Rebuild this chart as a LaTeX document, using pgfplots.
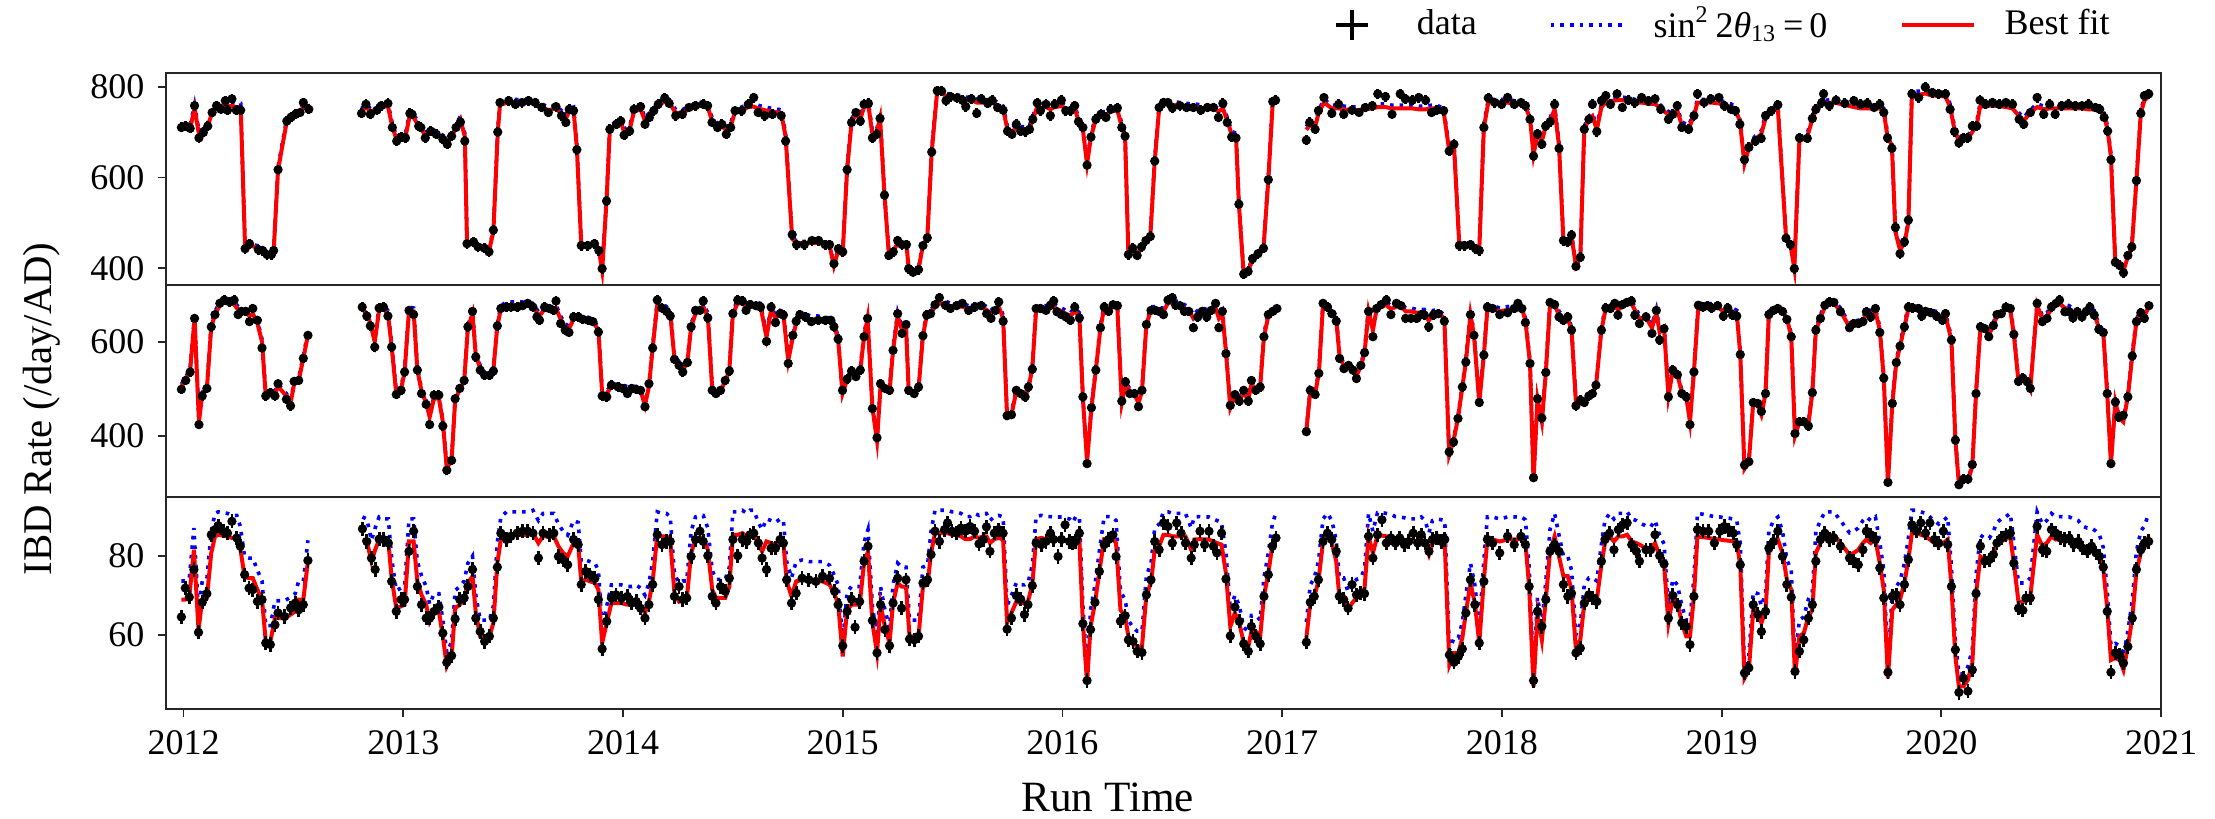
\documentclass[border=0pt]{standalone}
\usepackage{fontspec}
\setmainfont{Liberation Serif}
\usepackage{pgfplots}
\usepackage{pgfplotstable}
\pgfplotsset{compat=1.18}

% Weekly IBD rates per AD: time (yr), observed, best-fit prediction,
% prediction without theta13 oscillation. A nan row marks a data gap.
\pgfplotstableread{
t obs fit null
2011.99 710 708 715
2012.01 713 710 717
2012.03 708 708 715
2012.05 758 752 760
2012.07 687 695 702
2012.09 699 700 707
2012.11 713 713 720
2012.13 743 743 750
2012.15 758 755 763
2012.17 750 757 765
2012.19 769 760 768
2012.20 748 758 766
2012.22 773 757 765
2012.24 748 755 763
2012.26 748 755 763
2012.28 443 445 449
2012.30 454 450 455
2012.34 441 445 449
2012.36 439 440 444
2012.38 430 432 436
2012.40 430 432 436
2012.41 439 437 441
2012.43 617 617 623
2012.47 724 724 731
2012.49 733 733 740
2012.51 739 739 746
2012.53 743 743 750
2012.545 765 755 763
2012.57 750 752 760
2012.70 nan nan nan
2012.81 741 745 752
2012.83 761 755 762
2012.85 739 745 752
2012.88 748 750 757
2012.90 758 755 762
2012.93 763 757 764
2012.95 710 712 719
2012.97 680 682 689
2012.99 689 690 697
2013.01 687 690 697
2013.03 741 738 745
2013.04 739 738 745
2013.07 713 713 720
2013.08 710 708 715
2013.10 687 692 699
2013.125 702 700 707
2013.15 695 695 702
2013.18 684 686 693
2013.20 673 680 687
2013.22 691 690 697
2013.24 710 710 717
2013.26 722 728 735
2013.28 680 690 697
2013.29 454 455 459
2013.32 458 452 456
2013.34 447 447 451
2013.37 444 444 448
2013.39 436 438 442
2013.41 484 480 485
2013.43 700 700 707
2013.44 765 760 767
2013.48 769 765 772
2013.51 761 765 772
2013.54 765 763 770
2013.57 769 765 772
2013.60 765 762 769
2013.63 754 755 762
2013.66 743 748 755
2013.695 756 752 759
2013.72 736 740 747
2013.74 721 730 737
2013.755 750 745 752
2013.775 747 748 755
2013.79 661 665 672
2013.81 450 450 454
2013.84 450 450 454
2013.87 454 452 456
2013.89 439 440 444
2013.905 399 395 399
2013.925 548 548 553
2013.94 706 706 713
2013.97 717 717 724
2013.99 724 722 729
2014.005 693 700 707
2014.03 702 705 712
2014.05 750 745 752
2014.08 756 750 757
2014.10 717 725 732
2014.12 732 735 742
2014.14 747 745 752
2014.16 761 758 765
2014.19 775 768 775
2014.21 763 765 772
2014.24 736 742 749
2014.27 739 742 749
2014.30 754 750 757
2014.33 758 755 762
2014.365 761 760 767
2014.385 758 756 763
2014.405 721 725 732
2014.43 710 712 719
2014.45 717 712 719
2014.47 695 705 712
2014.49 710 712 719
2014.51 747 745 752
2014.54 747 748 755
2014.57 761 755 762
2014.595 776 756 763
2014.615 743 752 759
2014.645 736 748 755
2014.68 739 745 752
2014.72 736 742 749
2014.74 680 690 697
2014.77 474 465 469
2014.79 452 455 459
2014.825 452 455 459
2014.86 461 455 459
2014.89 461 455 459
2014.92 452 453 457
2014.94 452 450 454
2014.96 410 405 409
2014.98 443 440 444
2015.00 436 435 439
2015.02 617 617 623
2015.04 721 721 728
2015.06 743 740 747
2015.08 724 728 735
2015.097 761 755 762
2015.117 763 758 765
2015.135 687 695 702
2015.155 695 700 707
2015.17 730 730 737
2015.19 561 561 566
2015.21 428 430 434
2015.23 436 438 442
2015.25 461 455 459
2015.27 452 452 456
2015.29 452 452 456
2015.30 399 400 404
2015.32 391 395 399
2015.345 397 398 402
2015.365 450 450 454
2015.385 467 467 471
2015.405 656 656 663
2015.43 791 790 797
2015.45 790 788 795
2015.47 769 778 785
2015.49 778 776 783
2015.52 775 775 782
2015.545 770 772 779
2015.56 756 770 777
2015.585 773 770 777
2015.61 741 765 772
2015.63 773 765 772
2015.66 763 764 771
2015.68 770 765 772
2015.705 754 758 765
2015.73 748 750 757
2015.75 702 705 712
2015.77 695 700 707
2015.79 717 710 717
2015.81 702 705 712
2015.83 701 705 712
2015.85 706 708 715
2015.865 728 728 735
2015.885 764 755 762
2015.90 747 752 759
2015.925 761 755 762
2015.945 736 750 757
2015.965 761 755 762
2015.995 770 757 764
2016.015 747 752 759
2016.036 747 750 757
2016.056 758 752 759
2016.073 723 725 732
2016.093 710 705 712
2016.112 627 630 636
2016.13 689 690 697
2016.152 728 728 735
2016.175 739 738 745
2016.198 732 738 745
2016.22 750 745 752
2016.25 753 748 755
2016.27 710 712 719
2016.285 691 690 697
2016.30 430 432 436
2016.32 444 440 444
2016.34 428 432 436
2016.36 447 445 449
2016.38 461 458 462
2016.40 470 470 475
2016.42 636 636 642
2016.44 754 752 759
2016.46 765 762 769
2016.48 765 763 770
2016.50 753 760 767
2016.535 758 758 765
2016.565 754 756 763
2016.595 754 755 762
2016.63 748 753 760
2016.66 754 752 759
2016.687 754 752 759
2016.71 732 745 752
2016.73 763 752 759
2016.75 721 725 732
2016.77 689 695 702
2016.79 687 690 697
2016.803 541 541 546
2016.825 387 385 389
2016.845 393 392 396
2016.865 421 420 424
2016.89 432 432 436
2016.915 444 444 448
2016.937 595 595 601
2016.957 767 765 772
2016.97 770 768 775
2017.04 nan nan nan
2017.11 682 705 712
2017.125 721 715 722
2017.15 706 712 719
2017.165 747 740 747
2017.19 776 765 772
2017.226 741 752 759
2017.257 761 752 759
2017.28 739 750 757
2017.318 748 748 755
2017.35 743 748 755
2017.378 754 750 757
2017.41 758 752 759
2017.435 784 755 762
2017.47 778 755 762
2017.50 739 752 759
2017.537 784 752 759
2017.56 773 752 759
2017.592 770 752 759
2017.622 776 750 757
2017.653 770 750 757
2017.68 743 752 759
2017.704 748 752 759
2017.735 747 745 752
2017.76 658 660 667
2017.782 673 670 677
2017.806 450 452 456
2017.83 450 450 454
2017.857 452 450 454
2017.88 443 445 449
2017.897 439 440 444
2017.918 710 710 717
2017.938 775 765 772
2017.968 765 765 772
2017.999 761 765 772
2018.026 776 765 772
2018.056 761 762 769
2018.087 765 760 767
2018.107 758 756 763
2018.128 728 730 737
2018.144 647 650 657
2018.162 696 695 702
2018.182 673 680 687
2018.199 713 712 719
2018.22 723 725 732
2018.24 761 750 757
2018.26 664 670 677
2018.28 461 460 464
2018.30 458 460 464
2018.317 473 470 475
2018.337 404 405 409
2018.357 424 422 426
2018.375 706 706 713
2018.396 728 728 735
2018.412 761 735 742
2018.432 701 705 712
2018.453 769 755 762
2018.473 780 765 772
2018.494 761 768 775
2018.524 784 770 777
2018.548 754 770 777
2018.575 770 768 775
2018.605 765 765 772
2018.636 776 765 772
2018.666 769 762 769
2018.697 773 762 769
2018.723 750 752 759
2018.758 728 738 745
2018.778 739 738 745
2018.798 758 748 755
2018.819 710 715 722
2018.85 706 708 715
2018.874 736 735 742
2018.89 784 765 772
2018.92 765 765 772
2018.951 773 765 772
2018.988 776 763 770
2019.012 758 760 767
2019.043 750 755 762
2019.063 747 748 755
2019.083 717 725 732
2019.104 639 630 636
2019.124 666 665 672
2019.154 680 685 692
2019.18 686 695 702
2019.20 736 730 737
2019.226 747 745 752
2019.256 760 752 759
2019.293 466 470 475
2019.313 452 452 456
2019.331 399 400 404
2019.354 687 680 687
2019.39 686 690 697
2019.413 730 728 735
2019.429 750 748 755
2019.456 765 760 767
2019.464 784 762 769
2019.49 758 764 771
2019.521 770 764 771
2019.561 763 760 767
2019.602 769 755 762
2019.633 761 752 759
2019.663 763 752 759
2019.694 754 752 759
2019.72 761 752 759
2019.738 743 745 752
2019.755 687 690 697
2019.775 664 670 677
2019.791 490 480 485
2019.812 432 440 444
2019.832 458 455 459
2019.85 506 500 505
2019.866 784 782 790
2019.897 776 782 790
2019.927 799 785 793
2019.958 787 780 788
2019.988 784 780 788
2020.019 784 778 786
2020.04 750 755 762
2020.06 701 705 712
2020.08 676 680 687
2020.10 687 685 692
2020.12 687 685 692
2020.141 713 700 707
2020.161 713 715 722
2020.176 770 755 762
2020.202 761 758 765
2020.233 765 758 765
2020.263 761 757 764
2020.294 765 755 762
2020.324 761 752 759
2020.354 728 735 742
2020.375 717 725 732
2020.405 743 742 749
2020.436 776 755 762
2020.466 739 750 757
2020.493 761 752 759
2020.518 739 752 759
2020.548 758 752 759
2020.578 761 752 759
2020.609 758 752 759
2020.64 758 752 759
2020.67 761 750 757
2020.70 754 750 757
2020.721 750 748 755
2020.741 732 735 742
2020.757 702 705 712
2020.772 639 645 651
2020.792 413 410 414
2020.812 406 405 409
2020.829 390 395 399
2020.849 428 425 429
2020.867 447 447 451
2020.888 593 593 599
2020.908 741 741 748
2020.924 780 770 777
2020.944 784 778 786
}\ehone

\pgfplotstableread{
t obs fit null
2011.99 499 505 510
2012.01 518 520 525
2012.03 536 540 545
2012.05 650 650 656
2012.07 424 430 434
2012.085 485 488 493
2012.106 501 500 505
2012.126 632 632 638
2012.143 658 658 665
2012.165 682 678 685
2012.185 689 685 692
2012.21 685 684 691
2012.23 689 680 687
2012.248 658 668 675
2012.263 665 668 675
2012.283 665 662 669
2012.30 643 655 662
2012.315 671 660 667
2012.336 646 640 646
2012.357 587 600 606
2012.374 485 485 490
2012.395 492 492 497
2012.416 485 490 495
2012.43 511 505 510
2012.468 478 485 490
2012.487 464 470 475
2012.503 516 510 515
2012.524 518 518 523
2012.545 565 565 571
2012.566 614 614 620
2012.70 nan nan nan
2012.813 674 670 677
2012.834 655 660 667
2012.85 634 640 646
2012.87 589 600 606
2012.89 672 668 675
2012.91 674 670 677
2012.93 655 660 667
2012.947 589 590 596
2012.968 488 490 495
2012.99 497 500 505
2013.006 536 536 541
2013.026 667 667 674
2013.047 658 665 672
2013.064 540 540 545
2013.083 490 495 500
2013.104 467 470 475
2013.12 424 440 444
2013.14 487 480 485
2013.162 487 480 485
2013.18 421 430 434
2013.198 327 330 333
2013.22 348 350 353
2013.236 479 475 480
2013.257 501 500 505
2013.277 518 515 520
2013.294 632 630 636
2013.315 665 660 667
2013.33 568 570 576
2013.35 540 545 550
2013.37 529 530 535
2013.392 529 530 535
2013.41 538 540 545
2013.428 634 634 640
2013.444 671 670 677
2013.47 674 678 685
2013.49 674 678 685
2013.518 674 678 685
2013.543 677 678 685
2013.566 682 678 685
2013.59 674 675 682
2013.608 653 662 669
2013.62 646 655 662
2013.643 674 670 677
2013.664 671 668 675
2013.685 667 668 675
2013.695 687 672 679
2013.716 639 648 655
2013.737 625 632 638
2013.754 620 628 634
2013.775 653 648 655
2013.796 653 650 657
2013.817 648 648 655
2013.842 646 646 652
2013.863 643 643 649
2013.888 621 625 631
2013.905 485 490 495
2013.926 483 490 495
2013.947 508 505 510
2013.978 504 505 510
2013.999 501 503 508
2014.02 490 500 505
2014.04 501 500 505
2014.06 499 500 505
2014.08 497 496 501
2014.10 462 465 470
2014.118 511 505 510
2014.135 587 587 593
2014.156 689 680 687
2014.177 672 675 682
2014.198 665 668 675
2014.215 655 660 667
2014.234 563 565 571
2014.255 550 552 558
2014.272 536 540 545
2014.293 556 556 562
2014.31 632 632 638
2014.33 667 660 667
2014.35 667 668 675
2014.365 687 675 682
2014.386 651 655 662
2014.406 497 500 505
2014.423 490 492 497
2014.444 497 497 502
2014.465 518 515 520
2014.484 538 540 545
2014.50 660 660 667
2014.522 689 682 689
2014.543 687 682 689
2014.56 667 675 682
2014.578 679 678 685
2014.605 677 678 685
2014.626 674 675 682
2014.653 601 610 616
2014.674 674 668 675
2014.694 641 650 657
2014.715 660 660 667
2014.73 657 658 665
2014.752 554 560 566
2014.773 614 610 616
2014.788 644 640 646
2014.805 658 655 662
2014.83 653 652 659
2014.857 643 648 655
2014.888 646 648 655
2014.92 646 646 652
2014.946 646 645 651
2014.96 632 635 641
2014.979 606 606 612
2014.999 497 490 495
2015.02 521 520 525
2015.04 538 535 540
2015.06 526 530 535
2015.08 540 540 545
2015.097 611 611 617
2015.113 650 650 657
2015.135 458 460 465
2015.156 396 390 394
2015.172 511 505 510
2015.192 501 500 505
2015.213 497 495 500
2015.229 582 582 588
2015.25 660 655 662
2015.27 618 625 631
2015.288 637 635 641
2015.30 497 495 500
2015.325 490 490 495
2015.345 504 500 505
2015.365 613 613 619
2015.382 657 655 662
2015.40 660 660 667
2015.42 679 675 682
2015.44 694 682 689
2015.467 678 680 687
2015.49 671 675 682
2015.518 677 675 682
2015.544 682 675 682
2015.573 667 670 677
2015.60 674 672 679
2015.63 677 675 682
2015.655 660 668 675
2015.675 650 660 667
2015.695 667 670 677
2015.71 685 675 682
2015.73 644 650 657
2015.748 443 440 444
2015.768 445 445 449
2015.79 497 495 500
2015.81 490 490 495
2015.83 483 485 490
2015.845 504 500 505
2015.863 542 545 550
2015.88 671 668 675
2015.90 671 670 677
2015.925 667 670 677
2015.945 678 672 679
2015.96 687 674 681
2015.975 664 670 677
2015.995 658 665 672
2016.016 653 660 667
2016.036 646 655 662
2016.056 674 665 672
2016.077 651 655 662
2016.093 483 480 485
2016.112 341 345 348
2016.132 460 460 465
2016.152 540 540 545
2016.173 630 630 636
2016.19 674 672 679
2016.21 665 668 675
2016.23 679 675 682
2016.25 677 672 679
2016.27 474 470 475
2016.287 515 510 515
2016.307 490 495 500
2016.327 490 490 495
2016.346 462 470 475
2016.362 497 495 500
2016.382 637 637 643
2016.403 667 668 675
2016.423 667 668 675
2016.443 664 665 672
2016.46 658 665 672
2016.48 689 682 689
2016.50 694 685 692
2016.515 678 680 687
2016.535 677 678 685
2016.555 665 672 679
2016.575 665 668 675
2016.596 630 650 657
2016.616 653 660 667
2016.636 665 665 672
2016.657 653 662 669
2016.677 667 668 675
2016.697 682 672 679
2016.712 630 650 657
2016.728 665 660 667
2016.744 575 580 586
2016.764 465 460 465
2016.785 488 485 490
2016.805 474 478 483
2016.825 497 490 495
2016.846 474 478 483
2016.86 518 510 515
2016.88 497 500 505
2016.90 504 505 510
2016.917 611 611 617
2016.937 658 655 662
2016.958 665 665 672
2016.976 671 670 677
2017.04 nan nan nan
2017.11 409 410 414
2017.128 497 497 502
2017.15 488 490 495
2017.167 533 533 538
2017.186 682 680 687
2017.206 674 675 682
2017.226 660 665 672
2017.246 644 648 655
2017.261 565 570 576
2017.281 543 548 553
2017.302 550 550 555
2017.322 540 540 545
2017.338 522 528 533
2017.358 550 548 553
2017.375 577 577 583
2017.393 665 665 672
2017.413 611 625 631
2017.43 671 670 677
2017.45 679 676 683
2017.474 689 678 685
2017.495 658 670 677
2017.52 682 675 682
2017.541 677 675 682
2017.562 650 665 672
2017.586 650 665 672
2017.613 650 662 669
2017.633 658 662 669
2017.647 657 662 669
2017.667 632 645 651
2017.688 657 660 667
2017.71 660 662 669
2017.738 644 650 657
2017.76 366 360 364
2017.78 387 390 394
2017.80 437 437 441
2017.82 504 504 509
2017.836 557 557 563
2017.857 658 658 665
2017.873 614 614 620
2017.897 471 471 476
2017.918 572 572 578
2017.934 674 670 677
2017.958 671 670 677
2017.99 658 665 672
2018.026 662 668 675
2018.056 671 670 677
2018.073 682 675 682
2018.091 671 672 679
2018.107 641 645 651
2018.128 554 554 560
2018.144 311 305 308
2018.162 479 479 484
2018.182 438 430 434
2018.20 535 535 540
2018.219 684 680 687
2018.24 679 678 685
2018.26 653 658 665
2018.28 646 650 657
2018.30 653 650 657
2018.317 625 625 631
2018.337 464 470 475
2018.357 476 475 480
2018.375 471 472 477
2018.396 485 485 490
2018.412 490 490 495
2018.428 508 505 510
2018.453 625 625 631
2018.473 672 672 679
2018.494 671 672 679
2018.514 682 678 685
2018.528 657 668 675
2018.548 679 675 682
2018.569 684 680 687
2018.589 687 682 689
2018.605 657 668 675
2018.626 639 650 657
2018.656 653 652 659
2018.683 618 630 636
2018.703 667 662 669
2018.718 604 620 626
2018.738 628 630 636
2018.758 483 485 490
2018.778 540 540 545
2018.799 530 530 535
2018.819 490 492 497
2018.839 483 483 488
2018.856 424 430 434
2018.874 536 536 541
2018.894 678 675 682
2018.915 674 675 682
2018.935 677 675 682
2018.955 672 674 681
2018.982 677 674 681
2019.008 655 665 672
2019.028 672 670 677
2019.049 657 665 672
2019.069 655 660 667
2019.085 573 573 579
2019.104 338 330 333
2019.124 345 345 348
2019.144 471 471 476
2019.165 469 465 470
2019.181 452 445 449
2019.20 490 490 495
2019.215 658 658 665
2019.236 667 665 672
2019.256 671 668 675
2019.277 665 665 672
2019.297 648 650 657
2019.317 611 611 617
2019.334 405 400 404
2019.354 430 430 434
2019.374 430 432 436
2019.395 421 425 429
2019.413 492 492 497
2019.429 625 625 631
2019.45 650 650 657
2019.47 678 675 682
2019.49 685 682 689
2019.511 684 682 689
2019.541 664 665 672
2019.582 630 632 638
2019.602 639 638 644
2019.622 639 640 646
2019.643 643 645 651
2019.659 664 660 667
2019.679 653 660 667
2019.70 671 665 672
2019.72 620 625 631
2019.738 523 523 528
2019.757 301 300 303
2019.777 469 469 474
2019.795 556 556 562
2019.812 591 591 597
2019.832 632 632 638
2019.85 674 670 677
2019.87 672 670 677
2019.897 671 668 675
2019.911 655 662 669
2019.928 665 662 669
2019.952 662 660 667
2019.978 655 658 665
2020.005 646 652 659
2020.019 660 655 662
2020.046 604 604 610
2020.064 391 391 395
2020.08 296 296 299
2020.10 308 305 308
2020.121 308 305 308
2020.141 339 335 338
2020.158 490 490 495
2020.178 632 632 638
2020.198 628 628 634
2020.216 611 615 621
2020.237 635 635 641
2020.253 658 655 662
2020.273 660 660 667
2020.294 674 668 675
2020.314 671 668 675
2020.33 616 616 622
2020.351 516 516 521
2020.371 523 520 525
2020.391 515 515 520
2020.405 501 500 505
2020.436 682 678 685
2020.46 643 648 655
2020.481 650 655 662
2020.501 674 670 677
2020.522 682 678 685
2020.538 689 682 689
2020.562 664 672 679
2020.582 664 670 677
2020.599 651 662 669
2020.619 664 662 669
2020.64 653 655 662
2020.66 665 662 669
2020.676 674 665 672
2020.696 657 660 667
2020.717 627 630 636
2020.737 620 620 626
2020.755 490 490 495
2020.772 341 341 344
2020.792 472 472 477
2020.808 440 440 444
2020.828 444 430 434
2020.849 483 483 488
2020.869 570 570 576
2020.888 643 643 649
2020.908 662 660 667
2020.924 650 655 662
2020.945 677 675 682
}\ehtwo

\pgfplotstableread{
t obs fit null
2011.99 64.5 68.9 73.6
2012.008 71.8 68.9 73.6
2012.026 69.5 69.5 74.2
2012.047 76.5 81.5 87.0
2012.068 60.6 61.3 65.5
2012.085 68.2 68.9 73.6
2012.106 70.4 69.3 74.0
2012.126 85.3 80.7 86.2
2012.143 86.6 84.9 90.7
2012.158 87.6 85.3 91.1
2012.18 86.2 85.1 90.9
2012.20 85.7 84.9 90.7
2012.22 88.7 84.5 90.2
2012.242 84.5 84.5 90.2
2012.258 82.4 81.9 87.5
2012.278 75.2 74.6 79.7
2012.298 71.8 74.3 79.4
2012.315 71.4 74.3 79.4
2012.336 68.4 71.4 76.3
2012.357 68.9 68.9 73.6
2012.374 57.9 58.3 62.3
2012.395 57.5 58.3 62.3
2012.416 62.5 64.2 68.6
2012.43 65.5 64.2 68.6
2012.46 64.6 64.2 68.6
2012.487 66.8 65.1 69.5
2012.508 68.0 65.9 70.4
2012.524 66.3 68.9 73.6
2012.545 67.6 68.9 73.6
2012.566 78.8 78.6 83.9
2012.70 nan nan nan
2012.814 86.8 84.1 89.8
2012.834 83.6 83.6 89.3
2012.855 79.4 78.6 83.9
2012.872 76.5 81.5 87.0
2012.89 84.2 84.1 89.8
2012.91 84.1 83.6 89.3
2012.932 83.2 83.6 89.3
2012.947 73.5 74.3 79.4
2012.968 65.9 66.7 71.2
2012.99 68.9 67.2 71.8
2013.006 68.9 67.6 72.2
2013.026 81.1 83.6 89.3
2013.047 86.2 83.6 89.3
2013.064 72.2 73.5 78.5
2013.083 67.6 70.1 74.9
2013.104 64.2 67.6 72.2
2013.12 64.2 63.4 67.7
2013.14 65.9 65.9 70.4
2013.162 67.0 65.9 70.4
2013.18 60.4 59.6 63.7
2013.198 53.0 52.0 55.5
2013.22 54.7 54.5 58.2
2013.236 64.0 66.7 71.2
2013.257 68.9 67.6 72.2
2013.277 69.3 68.9 73.6
2013.294 72.2 73.1 78.1
2013.315 76.5 74.8 79.9
2013.33 64.2 65.5 70.0
2013.35 60.8 59.6 63.7
2013.37 58.3 59.6 63.7
2013.392 59.6 59.6 63.7
2013.41 64.2 63.0 67.3
2013.428 77.1 78.1 83.4
2013.444 85.7 84.1 89.8
2013.47 84.1 85.3 91.1
2013.49 84.9 85.3 91.1
2013.518 85.7 85.3 91.1
2013.543 86.2 85.3 91.1
2013.566 86.2 85.3 91.1
2013.59 85.7 85.7 91.5
2013.615 79.4 83.2 88.9
2013.636 85.7 84.9 90.7
2013.664 85.3 84.9 90.7
2013.685 85.7 84.9 90.7
2013.706 79.8 82.4 88.0
2013.727 79.0 80.7 86.2
2013.748 77.7 79.8 85.2
2013.775 84.1 83.2 88.9
2013.796 82.8 82.8 88.4
2013.81 72.7 73.5 78.5
2013.83 76.0 73.9 78.9
2013.85 75.2 73.5 78.5
2013.872 74.3 73.1 78.1
2013.888 68.9 71.4 76.3
2013.905 56.4 57.9 61.8
2013.926 63.4 63.0 67.3
2013.947 69.3 68.0 72.6
2013.968 70.1 68.0 72.6
2013.993 69.3 68.0 72.6
2014.02 69.7 67.6 72.2
2014.04 68.0 67.6 72.2
2014.06 68.4 68.0 72.6
2014.08 66.7 67.2 71.8
2014.10 64.2 65.5 70.0
2014.118 67.6 68.4 73.1
2014.135 72.7 73.5 78.5
2014.156 85.3 85.3 91.1
2014.177 82.8 84.9 90.7
2014.198 83.6 84.9 90.7
2014.215 83.6 84.1 89.8
2014.234 69.7 70.5 75.3
2014.255 72.2 68.4 73.1
2014.272 68.9 68.9 73.6
2014.29 69.3 68.9 73.6
2014.31 79.8 80.7 86.2
2014.33 84.1 84.1 89.8
2014.35 86.2 84.5 90.2
2014.365 83.6 84.5 90.2
2014.386 80.0 81.5 87.0
2014.406 69.7 71.4 76.3
2014.423 68.0 69.3 74.0
2014.444 72.2 69.3 74.0
2014.465 71.0 69.3 74.0
2014.484 74.3 72.2 77.1
2014.50 84.1 85.3 91.1
2014.522 80.0 85.3 91.1
2014.543 84.1 85.7 91.5
2014.563 83.6 84.9 90.7
2014.578 85.3 85.7 91.5
2014.595 85.7 85.7 91.5
2014.616 83.2 82.8 88.4
2014.633 79.4 81.1 86.6
2014.653 76.5 83.6 89.3
2014.674 81.9 83.2 88.9
2014.694 81.9 82.8 88.4
2014.715 84.1 83.6 89.3
2014.73 83.2 83.2 88.9
2014.745 73.9 73.5 78.5
2014.767 68.0 69.7 74.4
2014.788 70.5 73.5 78.5
2014.815 74.3 73.9 78.9
2014.846 73.9 73.5 78.5
2014.878 73.5 73.5 78.5
2014.908 74.8 73.5 78.5
2014.94 74.3 72.7 77.6
2014.963 71.0 70.1 74.9
2014.979 67.6 68.0 72.6
2015.00 57.2 54.5 58.2
2015.02 65.9 66.3 70.8
2015.04 69.0 67.6 72.2
2015.056 61.9 67.6 72.2
2015.077 68.4 67.6 72.2
2015.097 78.6 78.1 83.4
2015.115 82.4 81.1 86.6
2015.135 63.6 63.0 67.3
2015.156 55.4 55.4 59.2
2015.172 67.6 67.6 72.2
2015.192 61.3 62.1 66.3
2015.213 57.2 57.9 61.8
2015.229 68.0 68.0 72.6
2015.25 74.3 73.1 78.1
2015.268 66.7 72.2 77.1
2015.288 73.9 72.2 77.1
2015.304 58.9 59.6 63.7
2015.325 58.7 59.6 63.7
2015.345 59.6 59.6 63.7
2015.365 73.1 72.2 77.1
2015.386 73.9 72.7 77.6
2015.402 80.3 80.7 86.2
2015.42 86.2 85.7 91.5
2015.44 83.6 85.7 91.5
2015.463 86.6 85.7 91.5
2015.477 88.3 85.7 91.5
2015.497 86.2 85.3 91.1
2015.518 85.7 85.3 91.1
2015.538 87.0 84.9 90.7
2015.558 86.2 84.2 89.9
2015.579 87.4 84.2 89.9
2015.60 86.2 84.9 90.7
2015.62 83.0 84.5 90.2
2015.64 84.1 84.9 90.7
2015.654 87.3 84.9 90.7
2015.67 81.1 83.2 88.9
2015.69 85.7 84.2 89.9
2015.71 86.6 84.5 90.2
2015.73 85.7 84.1 89.8
2015.748 61.4 63.0 67.3
2015.768 64.2 65.5 70.0
2015.79 69.9 68.4 73.1
2015.81 69.0 68.0 72.6
2015.827 65.1 68.0 72.6
2015.843 67.6 68.4 73.1
2015.863 72.4 72.7 77.6
2015.88 83.2 84.2 89.9
2015.904 82.8 84.5 90.2
2015.925 83.6 84.2 89.9
2015.945 85.7 84.2 89.9
2015.96 84.1 84.1 89.8
2015.98 79.8 84.1 89.8
2015.996 84.1 84.1 89.8
2016.012 87.8 83.9 89.6
2016.032 83.6 83.6 89.3
2016.047 83.2 82.8 88.4
2016.06 83.6 84.1 89.8
2016.077 85.7 84.1 89.8
2016.093 62.8 63.0 67.3
2016.112 48.4 47.8 51.1
2016.128 61.3 62.1 66.3
2016.148 68.2 68.0 72.6
2016.168 76.0 76.0 81.2
2016.19 82.8 84.2 89.9
2016.21 84.1 84.2 89.9
2016.23 85.3 84.1 89.8
2016.244 79.8 83.2 88.9
2016.264 63.4 66.3 70.8
2016.285 64.8 64.6 69.0
2016.30 58.7 59.6 63.7
2016.321 58.3 57.9 61.8
2016.34 55.8 57.0 60.9
2016.362 55.5 57.0 60.9
2016.382 70.1 70.1 74.9
2016.403 73.9 73.1 78.1
2016.42 83.6 81.5 87.0
2016.44 81.5 82.4 88.0
2016.46 88.3 85.3 91.1
2016.48 87.4 85.3 91.1
2016.50 83.2 84.9 90.7
2016.52 88.3 84.9 90.7
2016.54 85.7 84.9 90.7
2016.56 83.2 84.9 90.7
2016.586 79.4 81.5 87.0
2016.60 82.8 84.1 89.8
2016.626 86.2 84.2 89.9
2016.647 82.8 84.1 89.8
2016.667 86.2 84.1 89.8
2016.687 82.4 83.6 89.3
2016.703 80.7 83.2 88.9
2016.724 85.7 82.8 88.4
2016.744 74.1 75.6 80.7
2016.764 59.7 62.1 66.3
2016.785 67.0 65.5 70.0
2016.805 63.4 63.0 67.3
2016.825 57.7 57.9 61.8
2016.846 55.8 57.0 60.9
2016.86 62.1 60.8 64.9
2016.88 59.6 60.8 64.9
2016.90 57.7 59.6 63.7
2016.917 69.7 69.7 74.4
2016.937 75.2 75.6 80.7
2016.956 82.4 82.8 88.4
2016.972 84.5 84.9 90.7
2017.04 nan nan nan
2017.11 58.1 59.2 63.2
2017.128 68.2 68.0 72.6
2017.146 69.7 69.7 74.4
2017.165 73.9 73.5 78.5
2017.186 83.6 83.6 89.3
2017.206 85.7 84.9 90.7
2017.226 84.1 83.2 88.9
2017.246 81.1 78.6 83.9
2017.26 69.7 69.7 74.4
2017.28 68.9 69.7 74.4
2017.30 66.7 66.3 70.8
2017.318 72.7 68.0 72.6
2017.338 70.1 69.3 74.0
2017.358 70.5 69.7 74.4
2017.375 70.4 71.8 76.7
2017.393 84.9 84.9 90.7
2017.413 79.4 80.7 86.2
2017.434 85.3 85.1 90.9
2017.454 89.1 85.1 90.9
2017.474 83.2 84.9 90.7
2017.495 84.5 84.7 90.5
2017.515 83.2 84.2 89.9
2017.535 84.5 84.1 89.8
2017.556 82.8 83.9 89.6
2017.576 83.6 83.6 89.3
2017.596 85.7 83.6 89.3
2017.617 83.2 83.6 89.3
2017.633 85.3 84.1 89.8
2017.65 83.2 83.2 88.9
2017.668 81.1 80.3 85.8
2017.684 84.1 83.2 88.9
2017.704 84.5 83.6 89.3
2017.724 83.6 83.4 89.1
2017.74 84.1 83.2 88.9
2017.761 54.9 52.4 56.0
2017.782 53.0 55.4 59.2
2017.802 54.5 55.4 59.2
2017.82 56.4 59.2 63.2
2017.836 65.5 65.5 70.0
2017.857 73.9 73.1 78.1
2017.877 67.6 68.0 72.6
2017.897 57.9 57.9 61.8
2017.918 73.5 73.9 78.9
2017.934 84.1 84.1 89.8
2017.958 83.2 84.1 89.8
2017.99 80.7 83.6 89.3
2018.026 84.9 84.1 89.8
2018.056 82.8 84.1 89.8
2018.087 84.9 84.2 89.9
2018.107 82.8 83.4 89.1
2018.124 72.2 72.2 77.1
2018.144 48.4 46.9 50.1
2018.162 65.9 65.1 69.5
2018.182 62.1 58.7 62.7
2018.20 68.9 68.9 73.6
2018.219 81.1 81.1 86.6
2018.24 82.8 84.9 90.7
2018.26 81.1 79.8 85.2
2018.28 72.7 74.8 79.9
2018.30 69.7 74.8 79.9
2018.317 70.5 71.4 76.3
2018.337 55.4 56.2 60.0
2018.357 56.6 58.7 62.7
2018.375 68.0 68.0 72.6
2018.396 70.1 69.7 74.4
2018.412 69.3 69.7 74.4
2018.432 68.4 68.9 73.6
2018.453 78.6 77.7 83.0
2018.469 84.1 83.2 88.9
2018.49 85.7 84.9 90.7
2018.51 81.5 83.6 89.3
2018.53 86.6 84.9 90.7
2018.55 87.8 84.9 90.7
2018.57 88.3 85.3 91.1
2018.591 82.8 83.6 89.3
2018.612 81.1 83.2 88.9
2018.626 78.6 82.8 88.4
2018.656 81.5 81.9 87.5
2018.677 81.5 81.7 87.3
2018.697 85.3 83.2 88.9
2018.718 80.0 79.8 85.2
2018.738 77.9 77.7 83.0
2018.758 64.2 63.0 67.3
2018.778 69.9 69.3 74.0
2018.799 67.6 68.0 72.6
2018.819 63.0 63.0 67.3
2018.839 62.1 59.6 63.7
2018.856 57.5 59.6 63.7
2018.874 69.7 69.7 74.4
2018.89 86.6 84.9 90.7
2018.915 86.2 84.7 90.5
2018.941 86.2 84.5 90.2
2018.967 83.2 84.2 89.9
2018.992 86.2 84.1 89.8
2019.012 87.4 83.9 89.6
2019.033 86.6 83.8 89.5
2019.053 85.7 83.6 89.3
2019.069 82.8 83.2 88.9
2019.085 77.7 77.7 83.0
2019.104 50.3 49.0 52.3
2019.124 51.6 51.1 54.6
2019.144 67.6 66.3 70.8
2019.165 65.1 65.9 70.4
2019.181 60.8 63.0 67.3
2019.20 65.9 65.9 70.4
2019.215 81.9 80.7 86.2
2019.236 83.6 83.2 88.9
2019.256 86.2 84.1 89.8
2019.277 79.8 80.7 86.2
2019.297 72.7 74.0 79.0
2019.317 69.5 71.4 76.3
2019.334 50.7 49.9 53.3
2019.354 55.8 59.6 63.7
2019.374 58.7 60.4 64.5
2019.395 64.2 64.6 69.0
2019.413 67.6 66.3 70.8
2019.429 78.6 80.7 86.2
2019.45 84.1 83.2 88.9
2019.47 85.7 85.3 91.1
2019.49 84.1 85.3 91.1
2019.511 84.5 85.3 91.1
2019.541 82.4 83.2 88.9
2019.582 79.4 80.3 85.8
2019.602 78.6 80.7 86.2
2019.622 77.7 81.5 87.0
2019.643 81.5 83.2 88.9
2019.659 86.2 84.1 89.8
2019.679 85.3 83.2 88.9
2019.70 84.1 84.1 89.8
2019.72 76.9 78.1 83.4
2019.738 69.3 71.4 76.3
2019.757 50.5 49.0 52.3
2019.777 69.7 66.3 70.8
2019.795 70.1 67.6 72.2
2019.812 67.6 68.9 73.6
2019.832 72.7 73.1 78.1
2019.85 79.0 79.0 84.4
2019.866 87.8 85.7 91.5
2019.887 86.2 85.7 91.5
2019.907 88.3 85.3 91.1
2019.928 85.7 84.9 90.7
2019.948 88.3 84.1 89.8
2019.968 84.1 83.2 88.9
2019.988 83.2 82.4 88.0
2020.009 86.2 83.2 88.9
2020.029 82.8 84.1 89.8
2020.046 72.2 72.2 77.1
2020.064 56.2 54.5 58.2
2020.08 45.4 46.9 50.1
2020.10 49.0 46.9 50.1
2020.121 45.7 48.6 51.9
2020.141 51.1 52.8 56.4
2020.158 70.4 70.4 75.2
2020.178 82.4 79.8 85.2
2020.198 78.6 79.0 84.4
2020.218 79.0 79.0 84.4
2020.237 80.3 80.7 86.2
2020.253 83.2 82.8 88.4
2020.273 84.5 83.6 89.3
2020.294 85.3 84.2 89.9
2020.314 85.7 84.9 90.7
2020.33 78.1 78.1 83.4
2020.351 66.7 68.4 73.1
2020.371 66.2 68.4 73.1
2020.385 69.3 68.4 73.1
2020.405 69.3 69.7 74.4
2020.436 87.4 85.3 91.1
2020.46 81.5 82.4 88.0
2020.48 81.1 83.2 88.9
2020.501 86.6 84.9 90.7
2020.521 85.7 84.1 89.8
2020.542 84.5 84.2 89.9
2020.562 84.1 84.1 89.8
2020.582 84.5 84.1 89.8
2020.603 82.8 83.6 89.3
2020.623 83.6 83.2 88.9
2020.643 81.9 81.9 87.5
2020.664 81.1 81.5 87.0
2020.684 82.4 81.5 87.0
2020.704 80.7 80.7 86.2
2020.72 79.8 79.8 85.2
2020.737 77.1 76.9 82.1
2020.755 65.9 66.7 71.2
2020.772 50.5 53.6 57.2
2020.792 55.4 54.1 57.8
2020.812 54.9 53.6 57.2
2020.829 52.8 51.1 54.6
2020.849 57.0 57.0 60.9
2020.869 64.2 64.2 68.6
2020.888 76.5 76.0 81.2
2020.908 81.5 80.7 86.2
2020.924 83.2 81.9 87.5
2020.944 83.6 84.9 90.7
}\ehthree

\pgfplotsset{
  panel/.style={
    scale only axis, width=498.75pt, height=53pt,
    xmin=2011.92, xmax=2021.0,
    axis line style={black!85, line width=0.4pt},
    tick style={black!85, line width=0.45pt},
    tick align=outside, major tick length=1.9pt,
    xtick pos=bottom, ytick pos=left,
    tick label style={font=\fontsize{9}{10}\selectfont},
    /pgf/number format/assume math mode=true,
    /pgf/number format/1000 sep={},
    unbounded coords=jump,
  },
  nullline/.style={blue, line width=0.9pt, dash pattern=on 0.9pt off 1.5pt, no marks, forget plot},
  fitline/.style={red, line width=1pt, no marks, forget plot},
  datapts/.style={black, only marks, mark=*, mark size=0.95pt, forget plot,
    error bars/.cd, y dir=both, y fixed=#1,
    error bar style={black, line width=0.7pt}, error mark=none},
}
\tikzset{hall/.style={rotate=-90, anchor=south, inner sep=0pt, font=\fontsize{9}{10}\selectfont}}

\begin{document}
\begin{tikzpicture}
\path[use as bounding box] (0pt,0pt) rectangle (553.75pt,204.5pt);

% EH1
\begin{axis}[panel, at={(41.5pt,133.25pt)}, anchor=south west,
  ymin=363, ymax=830, ytick={400,600,800}, xtick=\empty,
  legend columns=3,
  legend style={draw=none, fill=none, at={(0.576,1.2264)}, anchor=west,
    font=\fontsize{9}{10}\selectfont, inner sep=0pt, nodes={inner sep=0pt},
    /tikz/every odd column/.append style={column sep=7.25pt},
    /tikz/every even column/.append style={column sep=18pt}},
  legend cell align=left]
\addlegendimage{legend image code/.code={
  \path[draw=none, fill=none] (0pt,-3.8pt) rectangle (18pt,3.8pt);
  \draw[black, line width=1.1pt, solid] (5pt,0pt) -- (13pt,0pt);
  \draw[black, line width=1.1pt, solid] (9pt,-3.8pt) -- (9pt,3.8pt);}}
\addlegendentry{data}
\addlegendimage{legend image code/.code={
  \draw[blue, line width=0.9pt, dash pattern=on 0.9pt off 1.5pt] (0pt,0pt) -- (18pt,0pt);}}
\addlegendentry{sin\textsuperscript{2}\,2\textit{θ}\textsubscript{13}\,=\,0}
\addlegendimage{legend image code/.code={
  \draw[red, line width=1pt] (0pt,0pt) -- (18pt,0pt);}}
\addlegendentry{Best fit}
\addplot[nullline] table[x=t, y=null] {\ehone};
\addplot[fitline] table[x=t, y=fit] {\ehone};
\addplot[datapts=11] table[x=t, y=obs] {\ehone};
\node[hall] at ([xshift=2.75pt]rel axis cs:1,0.5) {EH1};
\end{axis}

% EH2
\begin{axis}[panel, at={(41.5pt,80.25pt)}, anchor=south west,
  ymin=270, ymax=721, ytick={400,600}, xtick=\empty]
\addplot[nullline] table[x=t, y=null] {\ehtwo};
\addplot[fitline] table[x=t, y=fit] {\ehtwo};
\addplot[datapts=10] table[x=t, y=obs] {\ehtwo};
\node[hall] at ([xshift=2.75pt]rel axis cs:1,0.5) {EH2};
\end{axis}

% EH3
\begin{axis}[panel, at={(41.5pt,27.25pt)}, anchor=south west,
  ymin=41.2, ymax=94.85, ytick={60,80}, xtick={2012,2013,...,2021}]
\addplot[nullline] table[x=t, y=null] {\ehthree};
\addplot[fitline] table[x=t, y=fit] {\ehthree};
\addplot[datapts=1.8] table[x=t, y=obs] {\ehthree};
\node[hall] at ([xshift=2.75pt]rel axis cs:1,0.5) {EH3};
\end{axis}

\node[rotate=90, inner sep=0pt, font=\fontsize{10.2}{12}\selectfont] at (10.5pt,102.25pt) {IBD Rate (/day/AD)};
\node[inner sep=0pt, font=\fontsize{10.8}{12}\selectfont] at (276.9pt,5.2pt) {Run Time};
\end{tikzpicture}
\end{document}
